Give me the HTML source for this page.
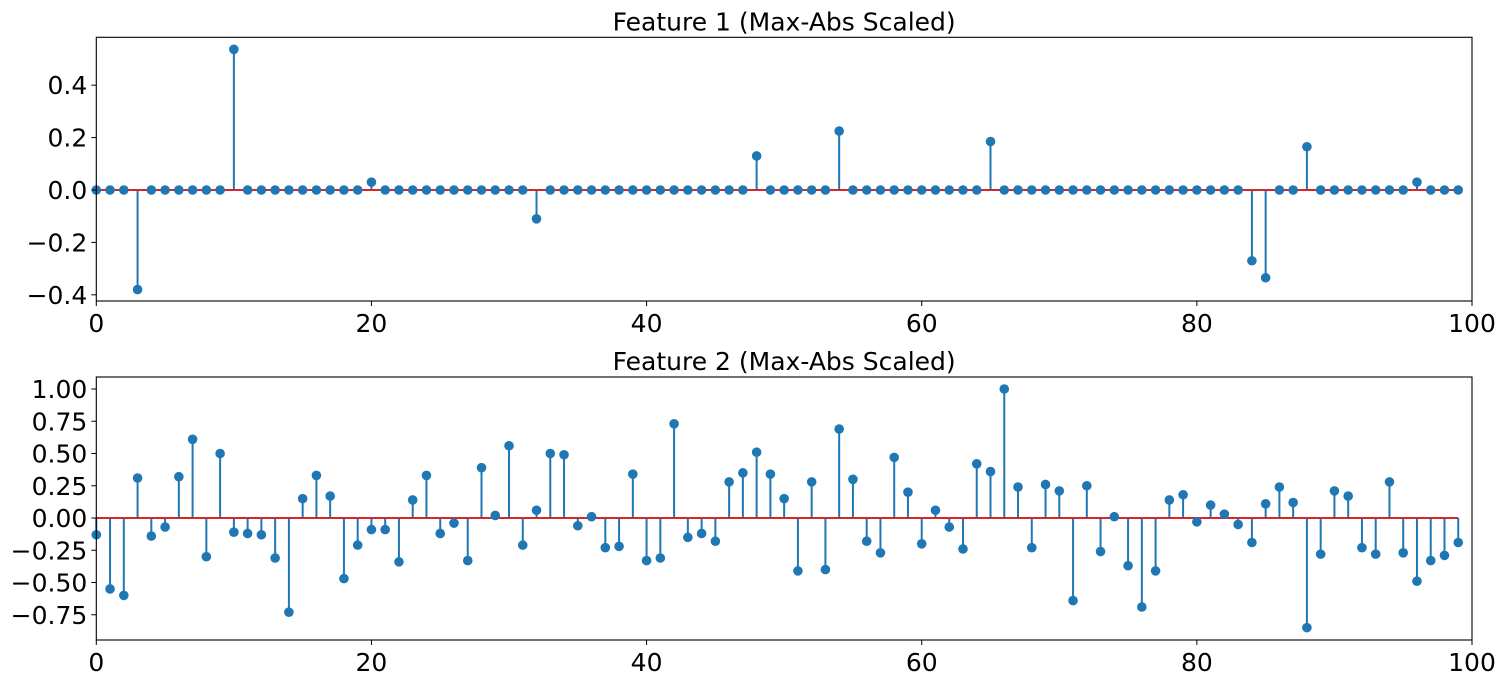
<!DOCTYPE html>
<html><head><meta charset="utf-8"><style>
body{margin:0;background:#fff;}
svg{display:block;font-family:"DejaVu Sans","Liberation Sans",sans-serif;}
</style></head><body>
<svg id="chart" width="1505" height="684" xmlns="http://www.w3.org/2000/svg"></svg>
<script>
const xTicks=[0,20,40,60,80,100];
const f1Ticks=[-0.4,-0.2,0.0,0.2,0.4];
const f1Labels=["\u22120.4","\u22120.2","0.0","0.2","0.4"];
const f2Ticks=[-0.75,-0.5,-0.25,0,0.25,0.5,0.75,1.0];
const f2Labels=["\u22120.75","\u22120.50","\u22120.25","0.00","0.25","0.50","0.75","1.00"];
const f1Values=[0,0,0,-0.38,0,0,0,0,0,0,0.537,0,0,0,0,0,0,0,0,0,0.03,0,0,0,0,0,0,0,0,0,0,0,-0.11,0,0,0,0,0,0,0,0,0,0,0,0,0,0,0,0.13,0,0,0,0,0,0.225,0,0,0,0,0,0,0,0,0,0,0.185,0,0,0,0,0,0,0,0,0,0,0,0,0,0,0,0,0,0,-0.27,-0.335,0,0,0.165,0,0,0,0,0,0,0,0.03,0,0,0];
const f2Values=[-0.13,-0.55,-0.60,0.31,-0.14,-0.07,0.32,0.61,-0.30,0.50,-0.11,-0.12,-0.13,-0.31,-0.73,0.15,0.33,0.17,-0.47,-0.21,-0.09,-0.09,-0.34,0.14,0.33,-0.12,-0.04,-0.33,0.39,0.02,0.56,-0.21,0.06,0.50,0.49,-0.06,0.01,-0.23,-0.22,0.34,-0.33,-0.31,0.73,-0.15,-0.12,-0.18,0.28,0.35,0.51,0.34,0.15,-0.41,0.28,-0.40,0.69,0.30,-0.18,-0.27,0.47,0.20,-0.20,0.06,-0.07,-0.24,0.42,0.36,1.00,0.24,-0.23,0.26,0.21,-0.64,0.25,-0.26,0.01,-0.37,-0.69,-0.41,0.14,0.18,-0.03,0.10,0.03,-0.05,-0.19,0.11,0.24,0.12,-0.85,-0.28,0.21,0.17,-0.23,-0.28,0.28,-0.27,-0.49,-0.33,-0.29,-0.19];

const svg=document.getElementById('chart');
const NS='http://www.w3.org/2000/svg';
function mk(tag,attrs,parent){const e=document.createElementNS(NS,tag);for(const k in attrs)e.setAttribute(k,attrs[k]);(parent||svg).appendChild(e);return e;}
const X0=96.3,X1=1472;
const FS=25;
function xs(v){return X0+(X1-X0)*v/100;}

function panel(name,title,top,bottom,y0px,pxPer,ticks,labels,vals){
  const g=mk('g',{});
  
  
  const ys=v=>y0px-v*pxPer;
  const t=mk('text',{x:(X0+X1)/2,y:top-7,'text-anchor':'middle','font-size':FS,fill:'#000'},g);
  t.textContent=title;
  
  
  vals.forEach((v,i)=>{
    const l=mk('line',{x1:xs(i),x2:xs(i),y1:ys(0),y2:ys(v),stroke:'#1f77b4','stroke-width':2},g);
    
    
  });
  const b=mk('line',{x1:xs(0),x2:xs(vals.length-1),y1:ys(0),y2:ys(0),stroke:'#d62728','stroke-width':2},g);
  
  
  vals.forEach((v,i)=>{
    const c=mk('circle',{cx:xs(i),cy:ys(v),r:4.8,fill:'#1f77b4'},g);
    
    
  });
  const r=mk('rect',{x:X0,y:top,width:X1-X0,height:bottom-top,fill:'none',stroke:'#000','stroke-width':1.1},g);
  
  
  ticks.forEach((v,i)=>{
    const y=ys(v);
    mk('line',{x1:X0-5,x2:X0,y1:y,y2:y,stroke:'#000','stroke-width':1},g);
    const tx=mk('text',{x:X0-9,y:y+9,'text-anchor':'end','font-size':FS,fill:'#000'},g);
    tx.textContent=labels[i];
    
    
  });
  xTicks.forEach(v=>{
    const x=xs(v);
    mk('line',{x1:x,x2:x,y1:bottom,y2:bottom+5,stroke:'#000','stroke-width':1},g);
    const tx=mk('text',{x:x,y:bottom+31,'text-anchor':'middle','font-size':FS,fill:'#000'},g);
    tx.textContent=String(v);
    
    
  });
}
panel('feature-1-panel','Feature 1 (Max-Abs Scaled)',37.3,301,190,262,f1Ticks,f1Labels,f1Values);
panel('feature-2-panel','Feature 2 (Max-Abs Scaled)',377,640,518,129,f2Ticks,f2Labels,f2Values);
</script>
</body></html>
